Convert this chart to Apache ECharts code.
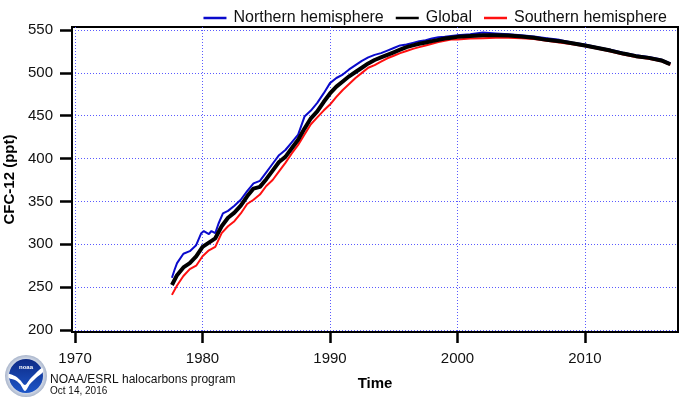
<!DOCTYPE html>
<html>
<head>
<meta charset="utf-8">
<title>CFC-12</title>
<script src="https://cdn.jsdelivr.net/npm/echarts@6/dist/echarts.min.js"></script>
<style>
    html, body { margin: 0; padding: 0; background: #fff; }
    #chart-container { width: 695px; height: 405px; }
</style>
</head>
<body>
<div id="chart-container"></div>
<script>
// tick labels
const xTicks = [1970, 1980, 1990, 2000, 2010];
const yTicks = [200, 250, 300, 350, 400, 450, 500, 550];

// Northern hemisphere
const nhYears = [1977.6, 1977.8, 1978.0, 1978.5, 1979.0, 1979.5, 1979.9, 1980.1, 1980.5, 1980.7,
    1981.0, 1981.25, 1981.6, 1982.0, 1982.5, 1983.0, 1983.5, 1984.0, 1984.5, 1985.0,
    1985.5, 1986.0, 1986.5, 1987.0, 1987.5, 1988.0, 1988.5, 1989.0, 1989.5, 1990.0,
    1990.5, 1991.0, 1991.5, 1992.0, 1992.5, 1993.0, 1993.5, 1994.0, 1994.5, 1995.0,
    1995.5, 1996.0, 1996.5, 1997.0, 1997.5, 1998.0, 1998.5, 1999.0, 1999.5, 2000.0,
    2001.0, 2002.0, 2003.0, 2004.0, 2005.0, 2006.0, 2007.0, 2008.0, 2009.0, 2010.0,
    2011.0, 2012.0, 2013.0, 2014.0, 2015.0, 2016.0, 2016.4, 2016.7];
const nhValues = [261, 270, 278, 289, 292, 299, 313, 315.5, 312, 315.5,
    313, 324, 336, 339, 345, 352, 362, 371, 374, 384,
    394, 404, 410, 419, 428, 449, 456, 465, 476, 488,
    494, 498, 504, 509, 514, 518, 521, 523, 526, 529,
    532, 533, 535, 537, 538, 540, 541.5, 542, 543, 544,
    545, 547, 546, 545, 544, 542.5, 540.5, 538.5, 535.5, 533,
    530, 527, 523.5, 520.5, 518.5, 515.5, 513, 511];

// Global and Southern hemisphere share the same dates
const years = [1977.6, 1978.0, 1978.5, 1979.0, 1979.5, 1980.0, 1980.5, 1981.0, 1981.5, 1982.0,
    1982.5, 1983.0, 1983.5, 1984.0, 1984.5, 1985.0, 1985.5, 1986.0, 1986.5, 1987.0,
    1987.5, 1988.0, 1988.5, 1989.0, 1989.5, 1990.0, 1990.5, 1991.0, 1991.5, 1992.0,
    1992.5, 1993.0, 1993.5, 1994.0, 1994.5, 1995.0, 1995.5, 1996.0, 1996.5, 1997.0,
    1997.5, 1998.0, 1998.5, 1999.0, 1999.5, 2000.0, 2001.0, 2002.0, 2003.0, 2004.0,
    2005.0, 2006.0, 2007.0, 2008.0, 2009.0, 2010.0, 2011.0, 2012.0, 2013.0, 2014.0,
    2015.0, 2016.0, 2016.4, 2016.7];
const globalValues = [252.5, 264, 273, 278, 286, 297, 302, 307, 321, 331,
    337, 345, 356, 365, 367, 376, 386, 396, 402, 412,
    422, 435, 447, 455, 466, 476, 484, 490, 496, 501,
    506, 511, 515, 518, 521, 524, 527, 530, 532, 534,
    535.5, 537, 538.5, 540, 541, 542, 543, 544, 544, 543.5,
    542.5, 541, 538.5, 537, 534.5, 532, 529, 526, 522.5, 519.5,
    517.5, 514.5, 512, 510];
const shValues = [241, 252, 263, 271, 275, 286, 293, 297, 313, 321,
    327, 336, 347, 352, 358, 368, 375, 385, 395, 406,
    416, 428, 440, 448, 456, 463, 472, 480, 487, 494,
    500, 506, 509, 513, 517, 520, 523, 525.5, 528, 530,
    532, 534, 536, 537.5, 539, 539, 540, 540.5, 541, 541,
    540.5, 539.5, 537.5, 535.5, 533.5, 531, 528, 525, 521.5, 518.5,
    516.5, 513.5, 511, 509.5];

const zip = (xs, ys) => xs.map((x, i) => [x, ys[i]]);

const FONT = '"Liberation Sans", Arial, Helvetica, sans-serif';

const chartDom = document.getElementById('chart-container');
const myChart = echarts.init(chartDom, null, { renderer: 'canvas' });

const gridLine = {
    show: true,
    lineStyle: { color: '#5a5aff', width: 1, type: [1, 2] }
};

const options = {
    animation: false,
    textStyle: { fontFamily: FONT },
    legend: {
        top: 5,
        right: 23,
        itemWidth: 23,
        itemHeight: 2.5,
        itemGap: 12,
        icon: 'rect',
        textStyle: { fontFamily: FONT, fontSize: 16, color: '#111', padding: [0, 0, 0, 2] },
        data: ['Northern hemisphere', 'Global', 'Southern hemisphere']
    },
    grid: {
        left: 72,
        right: 17,
        top: 27,
        bottom: 73,
        outerBoundsMode: 'none',
        show: true,
        borderColor: '#000',
        borderWidth: 2
    },
    xAxis: {
        type: 'value',
        min: 1969.76,
        max: 2017.3,
        minInterval: 10,
        maxInterval: 10,
        name: 'Time',
        nameLocation: 'middle',
        nameGap: 44,
        nameTextStyle: { fontFamily: FONT, fontSize: 15, fontWeight: 'bold', color: '#000' },
        axisLine: { show: true, lineStyle: { color: '#000', width: 2 } },
        axisTick: { show: true, inside: false, length: 11, customValues: xTicks, lineStyle: { color: '#000', width: 2.5 } },
        axisLabel: {
            customValues: xTicks,
            margin: 19,
            fontSize: 15,
            color: '#111',
            fontFamily: FONT,
            formatter: v => String(v)
        },
        splitLine: gridLine
    },
    yAxis: {
        type: 'value',
        min: 197.7,
        max: 553.5,
        minInterval: 50,
        maxInterval: 50,
        name: 'CFC-12 (ppt)',
        nameLocation: 'middle',
        nameGap: 51,
        nameRotate: 90,
        nameTextStyle: { fontFamily: FONT, fontSize: 15, fontWeight: 'bold', color: '#000' },
        axisLine: { show: true, lineStyle: { color: '#000', width: 2 } },
        axisTick: { show: true, inside: false, length: 12, customValues: yTicks, lineStyle: { color: '#000', width: 2.5 } },
        axisLabel: { customValues: yTicks, margin: 19, fontSize: 15, color: '#111', fontFamily: FONT },
        splitLine: gridLine
    },
    series: [
        {
            name: 'Northern hemisphere',
            type: 'line',
            symbol: 'none',
            data: zip(nhYears, nhValues),
            lineStyle: { color: '#0a0acc', width: 2 },
            itemStyle: { color: '#0a0acc' },
            z: 2
        },
        {
            name: 'Southern hemisphere',
            type: 'line',
            symbol: 'none',
            data: zip(years, shValues),
            lineStyle: { color: '#ff1010', width: 2 },
            itemStyle: { color: '#ff1010' },
            z: 3
        },
        {
            name: 'Global',
            type: 'line',
            symbol: 'none',
            data: zip(years, globalValues),
            lineStyle: { color: '#000', width: 4 },
            itemStyle: { color: '#000' },
            z: 4
        }
    ],
    graphic: [
        // NOAA logo
        {
            type: 'group',
            left: 5,
            top: 355,
            children: [
                {
                    type: 'circle',
                    shape: { cx: 21, cy: 21, r: 21 },
                    style: {
                        fill: new echarts.graphic.RadialGradient(0.5, 0.5, 0.5, [
                            { offset: 0, color: '#e8ecf4' },
                            { offset: 0.8, color: '#d4dbe8' },
                            { offset: 1, color: '#aab6cc' }
                        ])
                    }
                },
                {
                    type: 'circle',
                    shape: { cx: 21, cy: 21, r: 17 },
                    style: {
                        fill: new echarts.graphic.LinearGradient(0, 0, 0, 1, [
                            { offset: 0, color: '#0d2a86' },
                            { offset: 1, color: '#1d56c8' }
                        ])
                    }
                },
                {
                    // white gull shape
                    type: 'polygon',
                    shape: {
                        points: [[4, 19], [10, 21], [15, 25], [20, 30], [25, 24], [31, 18], [37, 13],
                            [38, 17], [31, 23], [25, 29], [20, 36], [15, 29], [10, 25], [4, 23]],
                        smooth: 0.3
                    },
                    style: { fill: '#ffffff' }
                },
                {
                    type: 'text',
                    x: 21,
                    y: 12,
                    style: {
                        text: 'noaa',
                        fill: '#fff',
                        font: 'bold 6px ' + FONT,
                        align: 'center',
                        verticalAlign: 'middle'
                    }
                }
            ]
        },
        {
            type: 'text',
            left: 50,
            top: 374,
            style: { text: 'NOAA/ESRL halocarbons program', fill: '#111', font: '12px ' + FONT }
        },
        {
            type: 'text',
            left: 50,
            top: 386,
            style: { text: 'Oct 14, 2016', fill: '#111', font: '10px ' + FONT }
        }
    ]
};

myChart.setOption(options);
</script>
</body>
</html>
